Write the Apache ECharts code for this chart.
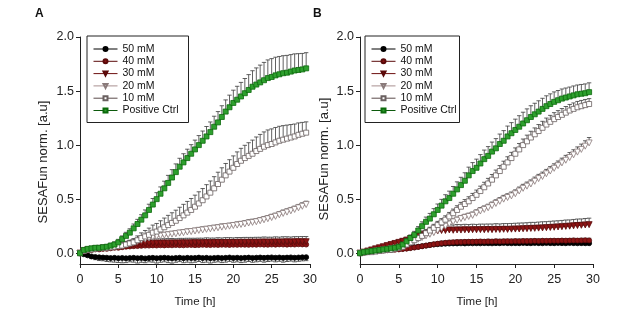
<!DOCTYPE html>
<html>
<head>
<meta charset="utf-8">
<script src="https://cdn.jsdelivr.net/npm/echarts@6/dist/echarts.min.js"></script>
<style>
  html, body { margin: 0; padding: 0; background: #fff; }
  #chart { width: 638px; height: 327px; }
</style>
</head>
<body>
<div id="chart"></div>
<script>
// Sampling times (h), one reading every 30 min
const TIMES = [
  0, 0.5, 1, 1.5, 2, 2.5, 3, 3.5, 4, 4.5,
  5, 5.5, 6, 6.5, 7, 7.5, 8, 8.5, 9, 9.5,
  10, 10.5, 11, 11.5, 12, 12.5, 13, 13.5, 14, 14.5,
  15, 15.5, 16, 16.5, 17, 17.5, 18, 18.5, 19, 19.5,
  20, 20.5, 21, 21.5, 22, 22.5, 23, 23.5, 24, 24.5,
  25, 25.5, 26, 26.5, 27, 27.5, 28, 28.5, 29, 29.5
];

const SERIES_NAMES = ['50 mM', '40 mM', '30 mM', '20 mM', '10 mM', 'Positive Ctrl'];
const X_TICKS = [0, 5, 10, 15, 20, 25, 30];
const Y_TICKS = [0, 0.5, 1.0, 1.5, 2.0];

// ---------- Panel A: means ----------
const A_50 = [
  0, -0.01, -0.02, -0.03, -0.035, -0.038, -0.04, -0.042, -0.045, -0.043,
  -0.046, -0.044, -0.047, -0.045, -0.043, -0.046, -0.044, -0.048, -0.045, -0.043,
  -0.046, -0.044, -0.042, -0.045, -0.047, -0.044, -0.042, -0.046, -0.043, -0.045,
  -0.044, -0.041, -0.045, -0.043, -0.046, -0.044, -0.042, -0.045, -0.043, -0.040,
  -0.044, -0.042, -0.045, -0.043, -0.041, -0.044, -0.042, -0.040, -0.043, -0.041,
  -0.039, -0.042, -0.040, -0.043, -0.041, -0.039, -0.042, -0.040, -0.038, -0.037
];
const A_40 = [
  0, 0.015, 0.025, 0.03, 0.035, 0.035, 0.04, 0.04, 0.045, 0.05,
  0.05, 0.055, 0.06, 0.062, 0.065, 0.066, 0.068, 0.07, 0.07, 0.072,
  0.071, 0.073, 0.072, 0.074, 0.073, 0.075, 0.074, 0.073, 0.075, 0.076,
  0.074, 0.075, 0.077, 0.076, 0.075, 0.077, 0.076, 0.078, 0.077, 0.076,
  0.078, 0.077, 0.079, 0.078, 0.077, 0.079, 0.078, 0.08, 0.079, 0.078,
  0.08, 0.079, 0.081, 0.08, 0.079, 0.081, 0.08, 0.082, 0.081, 0.08
];
const A_30 = [
  0, 0.02, 0.03, 0.035, 0.04, 0.04, 0.045, 0.05, 0.055, 0.06,
  0.065, 0.07, 0.075, 0.08, 0.083, 0.086, 0.088, 0.09, 0.091, 0.092,
  0.093, 0.092, 0.094, 0.093, 0.095, 0.094, 0.095, 0.096, 0.095, 0.096,
  0.097, 0.096, 0.097, 0.098, 0.097, 0.098, 0.099, 0.098, 0.099, 0.1,
  0.099, 0.1, 0.101, 0.1, 0.101, 0.102, 0.101, 0.102, 0.103, 0.102,
  0.103, 0.104, 0.103, 0.104, 0.105, 0.104, 0.105, 0.106, 0.105, 0.106
];
const A_20 = [
  0, 0.02, 0.03, 0.035, 0.04, 0.045, 0.05, 0.05, 0.055, 0.06,
  0.065, 0.07, 0.08, 0.09, 0.1, 0.11, 0.12, 0.13, 0.14, 0.148,
  0.155, 0.16, 0.166, 0.17, 0.176, 0.18, 0.186, 0.19, 0.196, 0.2,
  0.205, 0.211, 0.215, 0.221, 0.225, 0.231, 0.235, 0.241, 0.246, 0.25,
  0.256, 0.26, 0.266, 0.271, 0.279, 0.285, 0.291, 0.3, 0.309, 0.319,
  0.33, 0.341, 0.355, 0.368, 0.38, 0.392, 0.405, 0.42, 0.434, 0.45
];
const A_10 = [
  0, 0.02, 0.03, 0.035, 0.04, 0.045, 0.05, 0.05, 0.055, 0.06,
  0.065, 0.07, 0.08, 0.09, 0.1, 0.12, 0.14, 0.155, 0.17, 0.19,
  0.2, 0.22, 0.24, 0.26, 0.28, 0.3, 0.325, 0.35, 0.375, 0.4,
  0.43, 0.46, 0.49, 0.525, 0.56, 0.6, 0.64, 0.68, 0.72, 0.755,
  0.79, 0.825, 0.855, 0.88, 0.9, 0.92, 0.945, 0.965, 0.985, 1.0,
  1.01, 1.025, 1.04, 1.05, 1.06, 1.07, 1.08, 1.095, 1.105, 1.115
];
const A_POS = [
  0, 0.03, 0.04, 0.045, 0.05, 0.05, 0.055, 0.06, 0.07, 0.08,
  0.1, 0.13, 0.16, 0.19, 0.23, 0.27, 0.31, 0.35, 0.4, 0.45,
  0.5, 0.55, 0.6, 0.65, 0.7, 0.75, 0.8, 0.84, 0.88, 0.92,
  0.96, 1.0, 1.04, 1.08, 1.12, 1.17, 1.21, 1.26, 1.31, 1.35,
  1.39, 1.42, 1.45, 1.48, 1.51, 1.54, 1.56, 1.58, 1.6, 1.62,
  1.63, 1.645, 1.655, 1.665, 1.67, 1.68, 1.69, 1.695, 1.7, 1.71
];

// ---------- Panel A: standard deviations ----------
const A_50_SD = [
  0.005, 0.01, 0.015, 0.02, 0.025, 0.03, 0.03, 0.035, 0.035, 0.04,
  0.04, 0.045, 0.04, 0.035, 0.04, 0.045, 0.04, 0.04, 0.035, 0.04,
  0.045, 0.04, 0.038, 0.042, 0.045, 0.04, 0.036, 0.042, 0.04, 0.044,
  0.04, 0.036, 0.042, 0.04, 0.045, 0.04, 0.038, 0.042, 0.04, 0.036,
  0.04, 0.038, 0.042, 0.04, 0.036, 0.04, 0.038, 0.035, 0.04, 0.036,
  0.034, 0.038, 0.035, 0.04, 0.036, 0.034, 0.038, 0.035, 0.033, 0.032
];
const A_40_SD = [
  0.003, 0.006, 0.008, 0.01, 0.011, 0.012, 0.013, 0.014, 0.015, 0.016,
  0.017, 0.018, 0.019, 0.02, 0.02, 0.021, 0.02, 0.022, 0.021, 0.02,
  0.022, 0.021, 0.02, 0.022, 0.021, 0.02, 0.022, 0.021, 0.02, 0.022,
  0.021, 0.02, 0.022, 0.021, 0.023, 0.022, 0.021, 0.023, 0.022, 0.021,
  0.023, 0.022, 0.021, 0.023, 0.022, 0.024, 0.023, 0.022, 0.024, 0.023,
  0.024, 0.023, 0.022, 0.024, 0.023, 0.025, 0.024, 0.023, 0.025, 0.024
];
const A_30_SD = [
  0.004, 0.008, 0.01, 0.012, 0.014, 0.016, 0.018, 0.02, 0.022, 0.024,
  0.026, 0.028, 0.03, 0.032, 0.034, 0.036, 0.037, 0.038, 0.039, 0.04,
  0.04, 0.041, 0.04, 0.042, 0.041, 0.04, 0.042, 0.041, 0.043, 0.042,
  0.041, 0.043, 0.042, 0.044, 0.043, 0.042, 0.044, 0.043, 0.045, 0.044,
  0.043, 0.045, 0.044, 0.046, 0.045, 0.044, 0.046, 0.045, 0.047, 0.046,
  0.045, 0.047, 0.046, 0.048, 0.047, 0.046, 0.048, 0.047, 0.049, 0.048
];
const A_20_SD = [
  0.004, 0.008, 0.01, 0.012, 0.013, 0.014, 0.015, 0.016, 0.017, 0.018,
  0.019, 0.02, 0.021, 0.022, 0.023, 0.024, 0.024, 0.025, 0.025, 0.026,
  0.026, 0.025, 0.026, 0.027, 0.026, 0.027, 0.026, 0.027, 0.028, 0.027,
  0.026, 0.027, 0.028, 0.027, 0.028, 0.027, 0.028, 0.029, 0.028, 0.027,
  0.028, 0.029, 0.028, 0.029, 0.03, 0.029, 0.028, 0.029, 0.03, 0.029,
  0.03, 0.029, 0.03, 0.031, 0.03, 0.031, 0.03, 0.031, 0.032, 0.031
];
const A_10_SD = [
  0.004, 0.008, 0.01, 0.012, 0.013, 0.014, 0.015, 0.016, 0.017, 0.018,
  0.02, 0.022, 0.025, 0.03, 0.035, 0.04, 0.048, 0.055, 0.062, 0.07,
  0.075, 0.08, 0.085, 0.09, 0.094, 0.098, 0.1, 0.102, 0.104, 0.106,
  0.107, 0.108, 0.108, 0.109, 0.108, 0.108, 0.109, 0.11, 0.11, 0.11,
  0.11, 0.112, 0.115, 0.118, 0.122, 0.126, 0.13, 0.134, 0.137, 0.14,
  0.14, 0.138, 0.134, 0.13, 0.125, 0.12, 0.115, 0.11, 0.105, 0.1
];
const A_POS_SD = [
  0.005, 0.01, 0.012, 0.014, 0.015, 0.016, 0.018, 0.02, 0.022, 0.025,
  0.028, 0.03, 0.033, 0.036, 0.04, 0.043, 0.046, 0.05, 0.053, 0.056,
  0.06, 0.063, 0.066, 0.07, 0.073, 0.076, 0.078, 0.08, 0.082, 0.084,
  0.086, 0.088, 0.09, 0.092, 0.094, 0.097, 0.1, 0.104, 0.108, 0.112,
  0.118, 0.124, 0.13, 0.136, 0.142, 0.148, 0.154, 0.16, 0.165, 0.168,
  0.17, 0.168, 0.165, 0.162, 0.16, 0.157, 0.154, 0.151, 0.148, 0.145
];

// ---------- Panel B: means ----------
const B_50 = [
  0, 0.008, 0.014, 0.02, 0.025, 0.028, 0.03, 0.033, 0.035, 0.037,
  0.04, 0.042, 0.045, 0.05, 0.055, 0.06, 0.065, 0.07, 0.075, 0.08,
  0.083, 0.086, 0.088, 0.089, 0.09, 0.09, 0.091, 0.09, 0.092, 0.091,
  0.092, 0.091, 0.093, 0.092, 0.091, 0.093, 0.092, 0.094, 0.093, 0.092,
  0.093, 0.092, 0.094, 0.093, 0.092, 0.094, 0.093, 0.092, 0.094, 0.093,
  0.092, 0.094, 0.093, 0.092, 0.094, 0.093, 0.092, 0.093, 0.092, 0.092
];
const B_40 = [
  0, 0.005, 0.01, 0.015, 0.02, 0.022, 0.025, 0.027, 0.03, 0.032,
  0.035, 0.038, 0.042, 0.047, 0.052, 0.058, 0.064, 0.07, 0.076, 0.082,
  0.088, 0.092, 0.096, 0.099, 0.101, 0.103, 0.104, 0.105, 0.106, 0.106,
  0.107, 0.108, 0.107, 0.109, 0.108, 0.11, 0.109, 0.11, 0.111, 0.11,
  0.112, 0.111, 0.113, 0.112, 0.113, 0.114, 0.113, 0.115, 0.114, 0.115,
  0.116, 0.115, 0.117, 0.116, 0.117, 0.118, 0.117, 0.118, 0.119, 0.118
];
const B_30 = [
  0, 0.01, 0.02, 0.03, 0.04, 0.05, 0.06, 0.07, 0.08, 0.09,
  0.1, 0.11, 0.12, 0.135, 0.15, 0.16, 0.17, 0.18, 0.19, 0.2,
  0.205, 0.21, 0.21, 0.215, 0.212, 0.215, 0.214, 0.216, 0.215, 0.217,
  0.216, 0.218, 0.217, 0.219, 0.218, 0.22, 0.219, 0.221, 0.22, 0.222,
  0.223, 0.224, 0.226, 0.227, 0.229, 0.23, 0.232, 0.234, 0.236, 0.238,
  0.24, 0.243, 0.245, 0.248, 0.25, 0.253, 0.256, 0.258, 0.261, 0.264
];
const B_20 = [
  0, 0.005, 0.01, 0.015, 0.02, 0.025, 0.03, 0.035, 0.04, 0.045,
  0.05, 0.06, 0.08, 0.1, 0.115, 0.13, 0.145, 0.16, 0.175, 0.19,
  0.21, 0.23, 0.25, 0.27, 0.29, 0.305, 0.32, 0.33, 0.34, 0.35,
  0.37, 0.39, 0.405, 0.42, 0.44, 0.46, 0.48, 0.5, 0.515, 0.53,
  0.55, 0.575, 0.6, 0.62, 0.64, 0.665, 0.69, 0.71, 0.735, 0.76,
  0.785, 0.81, 0.835, 0.86, 0.885, 0.91, 0.935, 0.96, 0.99, 1.02
];
const B_10 = [
  0, 0.005, 0.01, 0.01, 0.015, 0.02, 0.025, 0.03, 0.03, 0.04,
  0.05, 0.06, 0.08, 0.1, 0.12, 0.14, 0.16, 0.185, 0.21, 0.235,
  0.26, 0.285, 0.31, 0.34, 0.37, 0.4, 0.43, 0.455, 0.48, 0.51,
  0.54, 0.575, 0.61, 0.645, 0.68, 0.72, 0.76, 0.8, 0.84, 0.88,
  0.92, 0.96, 1.0, 1.035, 1.07, 1.1, 1.13, 1.16, 1.19, 1.215,
  1.24, 1.26, 1.28, 1.3, 1.32, 1.335, 1.35, 1.36, 1.37, 1.38
];
const B_POS = [
  0, 0.01, 0.015, 0.02, 0.025, 0.03, 0.035, 0.04, 0.045, 0.05,
  0.06, 0.08, 0.11, 0.14, 0.17, 0.21, 0.25, 0.29, 0.32, 0.36,
  0.4, 0.44, 0.48, 0.51, 0.55, 0.59, 0.63, 0.67, 0.72, 0.76,
  0.79, 0.83, 0.87, 0.9, 0.94, 0.97, 1.01, 1.04, 1.08, 1.11,
  1.14, 1.17, 1.2, 1.23, 1.26, 1.285, 1.31, 1.335, 1.36, 1.38,
  1.4, 1.415, 1.43, 1.44, 1.45, 1.46, 1.47, 1.475, 1.48, 1.49
];

// ---------- Panel B: standard deviations ----------
const B_50_SD = [
  0.003, 0.005, 0.006, 0.007, 0.008, 0.009, 0.01, 0.01, 0.011, 0.011,
  0.012, 0.012, 0.013, 0.013, 0.014, 0.014, 0.015, 0.015, 0.016, 0.016,
  0.016, 0.017, 0.016, 0.017, 0.016, 0.017, 0.016, 0.017, 0.016, 0.017,
  0.016, 0.017, 0.016, 0.017, 0.016, 0.017, 0.016, 0.017, 0.016, 0.017,
  0.016, 0.017, 0.016, 0.017, 0.016, 0.017, 0.016, 0.017, 0.016, 0.017,
  0.016, 0.017, 0.016, 0.017, 0.016, 0.017, 0.016, 0.017, 0.016, 0.017
];
const B_40_SD = [
  0.003, 0.005, 0.006, 0.007, 0.008, 0.009, 0.01, 0.01, 0.011, 0.011,
  0.012, 0.012, 0.013, 0.014, 0.015, 0.016, 0.017, 0.018, 0.018, 0.019,
  0.019, 0.02, 0.019, 0.02, 0.019, 0.02, 0.019, 0.02, 0.019, 0.02,
  0.019, 0.02, 0.019, 0.02, 0.019, 0.02, 0.019, 0.02, 0.019, 0.02,
  0.019, 0.02, 0.019, 0.02, 0.019, 0.02, 0.019, 0.02, 0.019, 0.02,
  0.019, 0.02, 0.019, 0.02, 0.019, 0.02, 0.019, 0.02, 0.019, 0.02
];
const B_30_SD = [
  0.003, 0.006, 0.008, 0.01, 0.012, 0.014, 0.016, 0.018, 0.02, 0.022,
  0.024, 0.026, 0.028, 0.03, 0.032, 0.034, 0.036, 0.038, 0.04, 0.042,
  0.044, 0.046, 0.047, 0.048, 0.049, 0.05, 0.05, 0.051, 0.05, 0.051,
  0.05, 0.051, 0.052, 0.051, 0.052, 0.053, 0.052, 0.053, 0.054, 0.053,
  0.054, 0.055, 0.054, 0.055, 0.056, 0.055, 0.056, 0.057, 0.056, 0.057,
  0.058, 0.057, 0.058, 0.059, 0.058, 0.059, 0.06, 0.059, 0.06, 0.06
];
const B_20_SD = [
  0.003, 0.005, 0.006, 0.007, 0.008, 0.009, 0.01, 0.011, 0.012, 0.013,
  0.014, 0.015, 0.016, 0.018, 0.019, 0.02, 0.021, 0.022, 0.023, 0.024,
  0.025, 0.026, 0.027, 0.028, 0.028, 0.029, 0.029, 0.03, 0.03, 0.031,
  0.031, 0.032, 0.032, 0.033, 0.033, 0.034, 0.034, 0.035, 0.035, 0.036,
  0.036, 0.037, 0.037, 0.038, 0.038, 0.039, 0.039, 0.04, 0.04, 0.041,
  0.042, 0.043, 0.044, 0.045, 0.046, 0.047, 0.048, 0.049, 0.05, 0.05
];
const B_10_SD = [
  0.003, 0.005, 0.006, 0.007, 0.008, 0.009, 0.01, 0.011, 0.012, 0.013,
  0.014, 0.016, 0.018, 0.02, 0.022, 0.024, 0.026, 0.028, 0.03, 0.032,
  0.034, 0.035, 0.036, 0.037, 0.038, 0.039, 0.04, 0.041, 0.042, 0.043,
  0.044, 0.045, 0.046, 0.047, 0.048, 0.049, 0.05, 0.051, 0.052, 0.053,
  0.054, 0.055, 0.056, 0.057, 0.058, 0.059, 0.06, 0.06, 0.06, 0.06,
  0.06, 0.059, 0.058, 0.057, 0.056, 0.055, 0.054, 0.053, 0.052, 0.05
];
const B_POS_SD = [
  0.005, 0.006, 0.008, 0.01, 0.011, 0.012, 0.013, 0.014, 0.015, 0.016,
  0.018, 0.02, 0.024, 0.028, 0.032, 0.036, 0.04, 0.044, 0.048, 0.052,
  0.055, 0.058, 0.061, 0.064, 0.067, 0.07, 0.072, 0.074, 0.076, 0.078,
  0.08, 0.082, 0.084, 0.086, 0.088, 0.09, 0.092, 0.094, 0.096, 0.098,
  0.1, 0.102, 0.104, 0.105, 0.104, 0.102, 0.1, 0.098, 0.096, 0.094,
  0.092, 0.09, 0.089, 0.088, 0.087, 0.087, 0.086, 0.086, 0.086, 0.086
];

const PANEL_A = { means: [A_50, A_40, A_30, A_20, A_10, A_POS], sds: [A_50_SD, A_40_SD, A_30_SD, A_20_SD, A_10_SD, A_POS_SD] };
const PANEL_B = { means: [B_50, B_40, B_30, B_20, B_10, B_POS], sds: [B_50_SD, B_40_SD, B_30_SD, B_20_SD, B_10_SD, B_POS_SD] };

// Marker / line appearance per concentration
const STYLES = [
  { symbol: 'circle', size: 5, fill: '#000000', edge: '#000000', line: '#000000' },
  { symbol: 'circle', size: 5, fill: '#8c1414', edge: '#5a0a0a', line: '#5a0a0a' },
  { symbol: 'triangle', size: 6, rotate: 180, fill: '#8c1414', edge: '#5a0a0a', line: '#6e1010' },
  { symbol: 'triangle', size: 6, rotate: 180, fill: '#ffffff', edge: '#8a7a7a', line: '#a89090' },
  { symbol: 'rect', size: 5, fill: '#ffffff', edge: '#6a6060', line: '#5a4a4a' },
  { symbol: 'rect', size: 5, fill: '#2ea02e', edge: '#0c6a0c', line: '#0c5a0c' }
];

const FONT = 'Liberation Sans, Arial, sans-serif';

function errorBarRenderer(params, api) {
  const t = api.value(0), v = api.value(1), sd = api.value(2);
  const dir = v < 0 ? -1 : 1;
  const base = api.coord([t, v]);
  const tip = api.coord([t, v + dir * sd]);
  const hw = 2.2;
  const st = { stroke: '#3a3a3a', lineWidth: 0.8 };
  return {
    type: 'group',
    children: [
      { type: 'line', shape: { x1: base[0], y1: base[1], x2: tip[0], y2: tip[1] }, style: st },
      { type: 'line', shape: { x1: tip[0] - hw, y1: tip[1], x2: tip[0] + hw, y2: tip[1] }, style: st }
    ]
  };
}

function panelSeries(panel, idx) {
  const out = [];
  panel.means.forEach((vals, k) => {
    const s = STYLES[k];
    out.push({
      type: 'custom',
      name: 'sd-' + idx + '-' + k,
      xAxisIndex: idx, yAxisIndex: idx,
      renderItem: errorBarRenderer,
      encode: { x: 0, y: 1 },
      data: TIMES.map((t, i) => [t, vals[i], panel.sds[k][i]]),
      silent: true,
      z: 2 + k * 2
    });
    out.push({
      type: 'line',
      name: SERIES_NAMES[k],
      xAxisIndex: idx, yAxisIndex: idx,
      data: TIMES.map((t, i) => [t, vals[i]]),
      symbol: s.symbol,
      symbolSize: s.size,
      symbolRotate: s.rotate || 0,
      showAllSymbol: true,
      color: s.fill,
      itemStyle: { color: s.fill, borderColor: s.edge, borderWidth: 0.8 },
      lineStyle: { color: s.line, width: 1 },
      emphasis: { disabled: true },
      animation: false,
      z: 3 + k * 2
    });
  });
  return out;
}

function xAxisFor(gridIndex) {
  return {
    type: 'value', gridIndex, min: 0, max: 30, interval: 5,
    axisLine: { onZero: false, lineStyle: { color: '#222', width: 1 } },
    axisTick: { show: true, inside: false, length: 4, lineStyle: { color: '#222' } },
    axisLabel: { color: '#222', fontSize: 12.5, fontFamily: FONT, margin: 9 },
    splitLine: { show: false }
  };
}
function yAxisFor(gridIndex) {
  return {
    type: 'value', gridIndex, min: -0.1, max: 2.0,
    axisLine: { show: true, lineStyle: { color: '#222', width: 1 } },
    axisTick: { show: true, inside: false, length: 4, customValues: Y_TICKS, lineStyle: { color: '#222' } },
    axisLabel: { color: '#222', fontSize: 12.5, fontFamily: FONT, margin: 6, customValues: Y_TICKS,
      formatter: v => v.toFixed(1) },
    splitLine: { show: false }
  };
}

function legendFor(left, padRight) {
  return {
    orient: 'vertical', left, top: 36,
    data: SERIES_NAMES,
    itemWidth: 24, itemHeight: 5, itemGap: 0.3,
    borderColor: '#222', borderWidth: 1, borderRadius: 0,
    padding: [7, padRight, 6, 6],
    lineStyle: { width: 1 },
    textStyle: { fontSize: 10.5, fontFamily: FONT, color: '#111', lineHeight: 12 },
    selectedMode: false
  };
}

const chart = echarts.init(document.getElementById('chart'), null, { renderer: 'canvas' });
chart.setOption({
  animation: false,
  backgroundColor: '#ffffff',
  grid: [
    { left: 80, top: 37, width: 230, height: 227 },
    { left: 360, top: 37, width: 233, height: 227 }
  ],
  xAxis: [xAxisFor(0), xAxisFor(1)],
  yAxis: [yAxisFor(0), yAxisFor(1)],
  legend: [legendFor(87, 10), legendFor(365, 3)],
  series: panelSeries(PANEL_A, 0).concat(panelSeries(PANEL_B, 1)),
  graphic: [
    { type: 'text', left: 35, top: 8, style: { text: 'A', font: 'bold 12px ' + FONT, fill: '#111' } },
    { type: 'text', left: 313, top: 8, style: { text: 'B', font: 'bold 12px ' + FONT, fill: '#111' } },
    { type: 'text', x: 43, y: 162, rotation: Math.PI / 2,
      style: { text: 'SESAFun norm. [a.u]', font: '13px ' + FONT, fill: '#222', align: 'center', verticalAlign: 'middle' } },
    { type: 'text', x: 324, y: 159, rotation: Math.PI / 2,
      style: { text: 'SESAFun norm. [a.u]', font: '13px ' + FONT, fill: '#222', align: 'center', verticalAlign: 'middle' } },
    { type: 'text', x: 195, y: 302,
      style: { text: 'Time [h]', font: '11.5px ' + FONT, fill: '#222', align: 'center', verticalAlign: 'middle' } },
    { type: 'text', x: 477, y: 302,
      style: { text: 'Time [h]', font: '11.5px ' + FONT, fill: '#222', align: 'center', verticalAlign: 'middle' } }
  ]
});
</script>
</body>
</html>
